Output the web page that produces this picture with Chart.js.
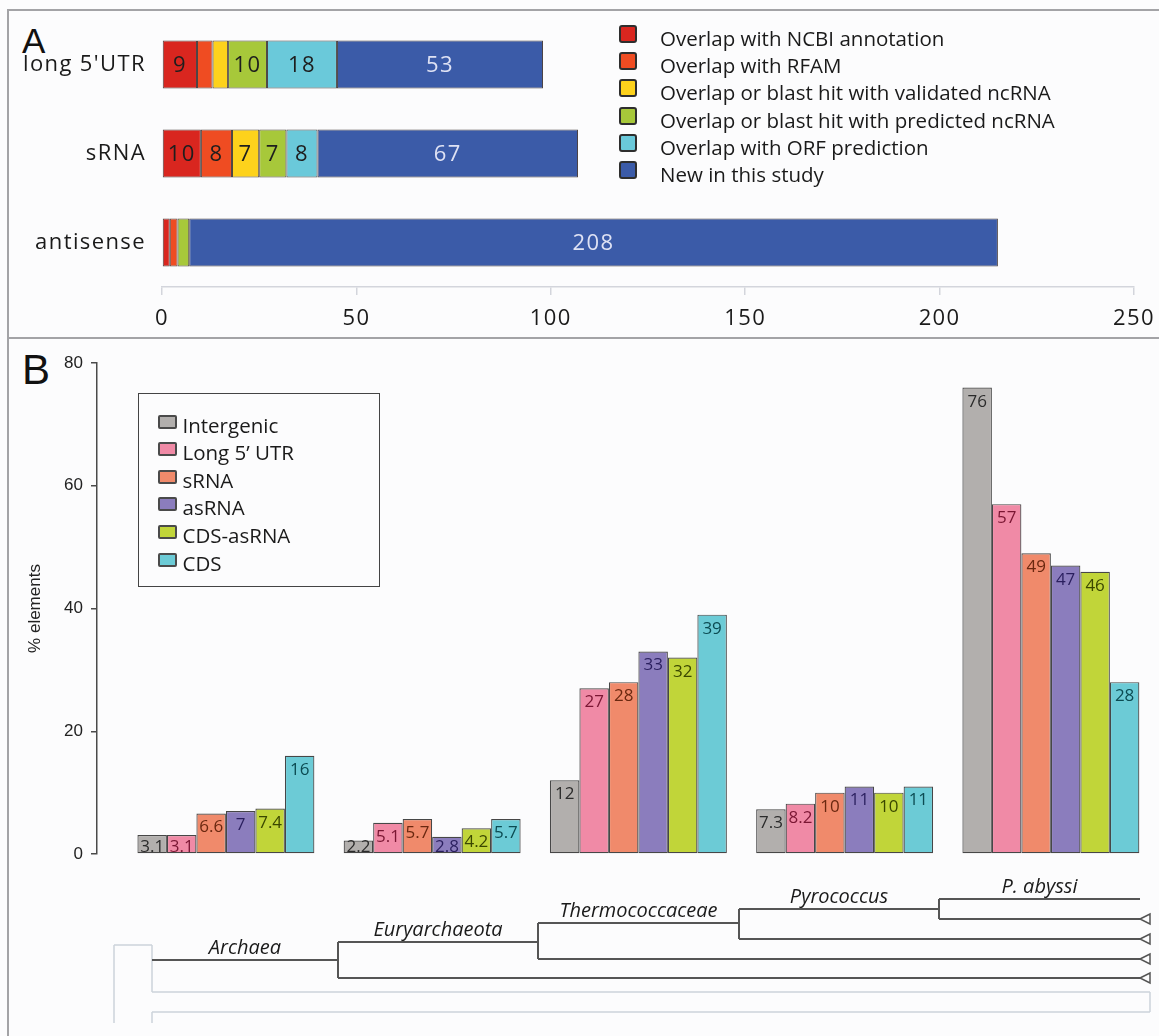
<!DOCTYPE html>
<html>
<head>
<meta charset="utf-8">
<script src="https://cdn.jsdelivr.net/npm/chart.js@4.4.1/dist/chart.umd.min.js"></script>
<style>
  html, body { margin: 0; padding: 0; background: #fcfcfd; }
  #fig { position: relative; width: 1159px; height: 1036px; overflow: hidden; background: #fcfcfd;
         font-family: "Open Sans", sans-serif; color: #1a1a1a; }
  .rule { position: absolute; background: #a3a3a6; }
  .letter { position: absolute; font-family: "Liberation Sans", Arial, sans-serif; color: #111; }
  canvas { position: absolute; left: 0; }
  .lg-row { position: absolute; display: flex; align-items: center; white-space: nowrap; }
  .lg-sw { box-sizing: border-box; flex: none; }
  .lg-tx { position: relative; }
</style>
</head>
<body>
<div id="fig">
  <div class="rule" style="left:7px;top:9px;width:2px;height:1027px"></div>
  <div class="rule" style="left:7px;top:9px;width:1152px;height:2px"></div>
  <div class="rule" style="left:7px;top:337px;width:1152px;height:2px"></div>
  <div class="letter" style="left:22px;top:23px;font-size:35px;line-height:35px">A</div>
  <div class="letter" style="left:22px;top:349px;font-size:42px;line-height:42px">B</div>
  <canvas id="chartA" width="1159" height="336" style="top:0"></canvas>
  <div id="legendA"></div>
  <canvas id="chartB" width="1159" height="696" style="top:340px"></canvas>
  <div id="legendB" style="position:absolute;left:138px;top:393px;width:242px;height:194px;box-sizing:border-box;border:1.5px solid #444;"></div>
</div>

<script>
// ---- Panel A: origin of the detected transcripts (counts) ----
const rows = ["long 5'UTR", 'sRNA', 'antisense'];
const sourceLabels = [
  'Overlap with NCBI annotation',
  'Overlap with RFAM',
  'Overlap or blast hit with validated ncRNA',
  'Overlap or blast hit with predicted ncRNA',
  'Overlap with ORF prediction',
  'New in this study'
];
const ncbiHits      = [9, 10, 2];
const rfamHits      = [4, 8, 2];
const validatedHits = [4, 7, 0];
const predictedHits = [10, 7, 3];
const orfHits       = [18, 8, 0];
const novelCounts   = [53, 67, 208];
const countTicks    = [0, 50, 100, 150, 200, 250];

// ---- Panel B: conservation of elements along the lineage (%) ----
const taxa = ['Archaea', 'Euryarchaeota', 'Thermococcaceae', 'Pyrococcus', 'P. abyssi'];
const elementTypes = ['Intergenic', 'Long 5\u2019 UTR', 'sRNA', 'asRNA', 'CDS-asRNA', 'CDS'];
const intergenicPct = [3.1, 2.2, 12, 7.3, 76];
const long5utrPct   = [3.1, 5.1, 27, 8.2, 57];
const srnaPct       = [6.6, 5.7, 28, 10, 49];
const asrnaPct      = [7, 2.8, 33, 11, 47];
const cdsAsrnaPct   = [7.4, 4.2, 32, 10, 46];
const cdsPct        = [16, 5.7, 39, 11, 28];
const pctTicks      = [0, 20, 40, 60, 80];

const FONT = '"Open Sans", sans-serif';
const AXIS_FONT = '"Liberation Sans", Arial, sans-serif';

// ---------------- Panel A ----------------
const sourceColors = ['#d9261f', '#ef4c22', '#fdd21c', '#a7c83a', '#6ac9da', '#3b5ba8'];
const seriesA = [ncbiHits, rfamHits, validatedHits, predictedHits, orfHits, novelCounts];

const spacedText = {
  id: 'spacedText',
  beforeDraw(chart) { chart.ctx.save(); chart.ctx.letterSpacing = '1.4px'; },
  afterDraw(chart) { chart.ctx.restore(); }
};

const segmentLabels = {
  id: 'segmentLabels',
  afterDatasetsDraw(chart) {
    const ctx = chart.ctx;
    ctx.save();
    ctx.font = '22px ' + FONT;
    ctx.textAlign = 'center';
    ctx.textBaseline = 'middle';
    chart.data.datasets.forEach((ds, di) => {
      chart.getDatasetMeta(di).data.forEach((el, i) => {
        const v = ds.data[i];
        if (v < 5) return;
        ctx.fillStyle = di === seriesA.length - 1 ? '#dfe2f4' : '#1e1e1e';
        ctx.fillText(String(v), (el.x + el.base) / 2, el.y + 1);
      });
    });
    ctx.restore();
  }
};

new Chart(document.getElementById('chartA'), {
  type: 'bar',
  data: {
    labels: rows,
    datasets: seriesA.map((d, i) => ({
      label: sourceLabels[i],
      data: d,
      backgroundColor: sourceColors[i],
      borderColor: '#4d4444',
      borderWidth: 1,
      borderSkipped: false,
      barPercentage: 0.54,
      categoryPercentage: 1
    }))
  },
  options: {
    indexAxis: 'y',
    responsive: false,
    animation: false,
    devicePixelRatio: 1,
    layout: { padding: { top: 20, right: 25, left: 0, bottom: 0 } },
    plugins: { legend: { display: false }, tooltip: { enabled: false } },
    scales: {
      x: {
        stacked: true, min: 0, max: 250,
        afterBuildTicks: s => { s.ticks = countTicks.map(v => ({ value: v })); },
        afterFit: s => { s.height = 49; s.paddingLeft = 0; s.paddingRight = 0; },
        grid: { drawOnChartArea: false, drawTicks: true, tickLength: 8, color: '#d3d5dc', lineWidth: 1.5 },
        border: { color: '#d3d5dc', width: 1.5 },
        ticks: { font: { family: FONT, size: 22 }, color: '#1a1a1a', padding: 11, maxRotation: 0 }
      },
      y: {
        stacked: true,
        afterFit: s => { s.width = 162; s.paddingTop = 0; s.paddingBottom = 0; },
        grid: { display: false, drawTicks: false },
        border: { display: false },
        ticks: { font: { family: FONT, size: 22 }, color: '#1a1a1a', padding: 16 }
      }
    }
  },
  plugins: [spacedText, segmentLabels]
});

// legend for panel A
const legendA = document.getElementById('legendA');
sourceLabels.forEach((name, i) => {
  const row = document.createElement('div');
  row.className = 'lg-row';
  row.style.left = '619px';
  row.style.top = (25 + i * 27.2) + 'px';
  row.style.height = '18px';
  row.innerHTML = '<div class="lg-sw" style="width:18px;height:18px;border:2px solid #2e2e2e;border-radius:3px;background:' +
    sourceColors[i] + '"></div><span class="lg-tx" style="margin-left:23px;font-size:20.5px;top:4px">' + name + '</span>';
  legendA.appendChild(row);
});

// ---------------- Panel B ----------------
const typeColors = ['#b2afad', '#f08aa6', '#f08a6b', '#8b7dbd', '#c1d539', '#6ccbd6'];
const typeInk    = ['#2b2b2b', '#7a1633', '#6a2810', '#2a1f5e', '#3a4700', '#0c4b52'];
const seriesB = [intergenicPct, long5utrPct, srnaPct, asrnaPct, cdsAsrnaPct, cdsPct];

const barValueLabels = {
  id: 'barValueLabels',
  afterDatasetsDraw(chart) {
    const ctx = chart.ctx;
    ctx.save();
    ctx.font = '17px ' + FONT;
    ctx.textAlign = 'center';
    ctx.textBaseline = 'alphabetic';
    chart.data.datasets.forEach((ds, di) => {
      chart.getDatasetMeta(di).data.forEach((el, i) => {
        const v = ds.data[i].y;
        ctx.fillStyle = typeInk[di];
        ctx.fillText(String(v), el.x, Math.min(el.y + 19, el.base - 1));
      });
    });
    ctx.restore();
  }
};

// cladogram under the bars: one named branch per taxon, with the sister lineages
const cladeX = [152, 338, 538, 739, 939];
const cladeY = [960, 942, 923, 909, 899];
const sisterY = [978, 959, 939, 919];
const TIP_X = 1140, END_X = 1150;

const cladogram = {
  id: 'cladogram',
  afterDraw(chart) {
    const ctx = chart.ctx;
    ctx.save();
    ctx.translate(0, -340);
    const line = (x1, y1, x2, y2) => { ctx.beginPath(); ctx.moveTo(x1, y1); ctx.lineTo(x2, y2); ctx.stroke(); };

    // outgroup bracket (light)
    ctx.strokeStyle = '#cdd3da';
    ctx.lineWidth = 1.5;
    line(114, 945, 114, 1023);
    line(114, 945, 152, 945);
    line(152, 945, 152, 992);
    line(152, 992, END_X, 992);
    line(END_X, 992, END_X, 1012);
    line(152, 1012, END_X, 1012);
    line(152, 1012, 152, 1023);

    // named branches and sister lineages
    ctx.strokeStyle = '#555';
    ctx.lineWidth = 2;
    ctx.font = 'italic 20px ' + FONT;
    ctx.fillStyle = '#1a1a1a';
    ctx.textAlign = 'center';
    ctx.textBaseline = 'alphabetic';
    taxa.forEach((name, i) => {
      const x2 = i < taxa.length - 1 ? cladeX[i + 1] : TIP_X;
      line(cladeX[i], cladeY[i], x2, cladeY[i]);
      ctx.fillText(name, (cladeX[i] + x2) / 2, cladeY[i] - 6);
      if (i < taxa.length - 1) {
        line(x2, cladeY[i + 1], x2, sisterY[i]);
        line(x2, sisterY[i], END_X, sisterY[i]);
        ctx.save();
        ctx.lineWidth = 1.5;
        ctx.fillStyle = '#fcfcfd';
        ctx.beginPath();
        ctx.moveTo(TIP_X, sisterY[i]);
        ctx.lineTo(END_X, sisterY[i] - 5);
        ctx.lineTo(END_X, sisterY[i] + 5);
        ctx.closePath();
        ctx.fill();
        ctx.stroke();
        ctx.restore();
      }
    });
    ctx.restore();
  }
};

new Chart(document.getElementById('chartB'), {
  type: 'bar',
  data: {
    datasets: seriesB.map((d, i) => ({
      label: elementTypes[i],
      data: d.map((v, j) => ({ x: j, y: v })),
      backgroundColor: typeColors[i],
      borderColor: '#474747',
      borderWidth: 1.2,
      borderSkipped: false,
      categoryPercentage: 0.858,
      barPercentage: 1
    }))
  },
  options: {
    responsive: false,
    animation: false,
    devicePixelRatio: 1,
    layout: { padding: { top: 23, bottom: 182, left: 0, right: 5 } },
    plugins: { legend: { display: false }, tooltip: { enabled: false } },
    scales: {
      x: {
        type: 'linear', display: false, offset: false, min: -0.625, max: 4.5,
        afterBuildTicks: s => { s.ticks = taxa.map((_, j) => ({ value: j })); }
      },
      y: {
        min: 0, max: 80,
        afterBuildTicks: s => { s.ticks = pctTicks.map(v => ({ value: v })); },
        afterFit: s => { s.width = 97; s.paddingTop = 0; s.paddingBottom = 0; },
        grid: { drawOnChartArea: false, tickLength: 6, color: '#4a4a4a', lineWidth: 1.5 },
        border: { color: '#4a4a4a', width: 1.5 },
        ticks: { font: { family: AXIS_FONT, size: 17 }, color: '#222', padding: 8 },
        title: { display: true, text: '% elements', font: { family: AXIS_FONT, size: 17 }, color: '#222', padding: { top: 25, bottom: 0 } }
      }
    }
  },
  plugins: [barValueLabels, cladogram]
});

// legend for panel B
const legendB = document.getElementById('legendB');
elementTypes.forEach((name, i) => {
  const row = document.createElement('div');
  row.className = 'lg-row';
  row.style.left = '18.5px';
  row.style.top = (20.5 + i * 27.6) + 'px';
  row.style.height = '14px';
  row.innerHTML = '<div class="lg-sw" style="width:19px;height:14px;border:2px solid #4a4a4a;border-radius:2px;background:' +
    typeColors[i] + '"></div><span class="lg-tx" style="margin-left:6px;font-size:20.5px;top:3px">' + name + '</span>';
  legendB.appendChild(row);
});
</script>
</body>
</html>
